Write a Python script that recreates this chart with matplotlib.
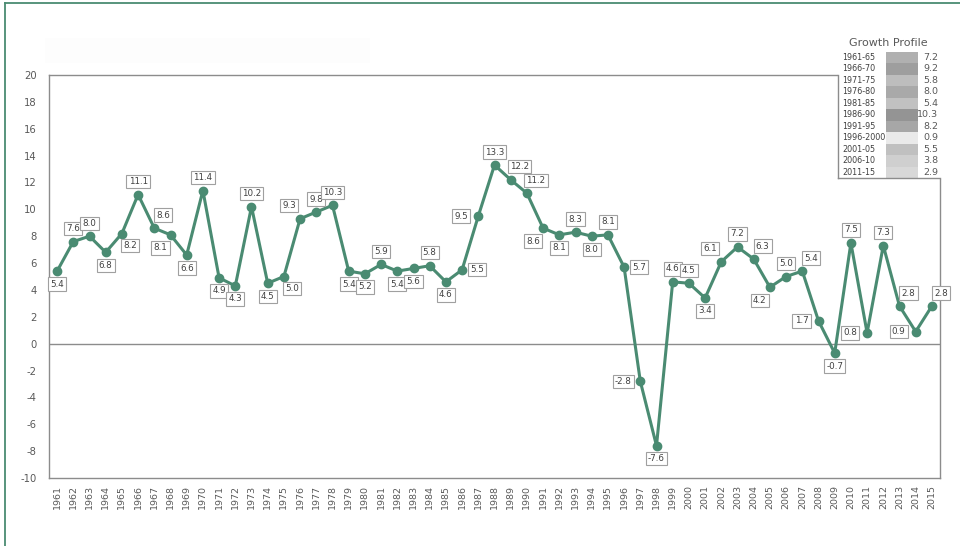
import numpy as np
import matplotlib
matplotlib.use("Agg")
import matplotlib.pyplot as plt
from matplotlib.lines import Line2D
from matplotlib.patches import Rectangle

plt.rcParams["axes.unicode_minus"] = False

# ── Data ──────────────────────────────────────────────────────────────────────
YEARS = list(range(1961, 2016))
GROWTH = [5.4, 7.6, 8.0, 6.8, 8.2, 11.1, 8.6, 8.1, 6.6, 11.4,
          4.9, 4.3, 10.2, 4.5, 5.0, 9.3, 9.8, 10.3, 5.4, 5.2,
          5.9, 5.4, 5.6, 5.8, 4.6, 5.5, 9.5, 13.3, 12.2, 11.2,
          8.6, 8.1, 8.3, 8.0, 8.1, 5.7, -2.8, -7.6, 4.6, 4.5,
          3.4, 6.1, 7.2, 6.3, 4.2, 5.0, 5.4, 1.7, -0.7, 7.5,
          0.8, 7.3, 2.8, 0.9, 2.8]

PERIODS = ["1961-65", "1966-70", "1971-75", "1976-80", "1981-85", "1986-90",
           "1991-95", "1996-2000", "2001-05", "2006-10", "2011-15"]
PERIOD_AVG = [7.2, 9.2, 5.8, 8.0, 5.4, 10.3, 8.2, 0.9, 5.5, 3.8, 2.9]

# label placement for each point (a=above, b=below, l=left, r=right)
LABEL_POS = ["b", "a", "a", "b", "br", "a", "ar", "bl", "b", "a",
             "b", "b", "a", "b", "br", "al", "a", "a", "b", "b",
             "a", "b", "b", "a", "b", "r", "l", "a", "ar", "ar",
             "bl", "b", "a", "b", "a", "r", "l", "b", "a", "a",
             "b", "al", "a", "ar", "bl", "a", "ar", "l", "b", "a",
             "l", "a", "ar", "l", "ar"]

OFFSETS = {"a": (0, 13), "b": (0, -13), "l": (-17, 0), "r": (15, 0),
           "ar": (9, 13), "al": (-11, 13), "br": (8, -12), "bl": (-10, -13)}

GREEN = "#4a8b72"
GRID_GRAY = "#8c8c8c"
TEXT_GRAY = "#595959"

W, H = 960, 546
fig = plt.figure(figsize=(W / 100, H / 100), dpi=100)

# ── Main chart ────────────────────────────────────────────────────────────────
ax = fig.add_axes([49 / W, 1 - 478 / H, 891 / W, 403 / H])
x = np.arange(len(YEARS))
ax.plot(x, GROWTH, "-o", color=GREEN, linewidth=2.2, markersize=6, zorder=3)
ax.axhline(0, color=GRID_GRAY, linewidth=1.0, zorder=1)

ax.set_xlim(-0.5, len(YEARS) - 0.5)
ax.set_ylim(-10, 20)
ax.set_yticks(np.arange(-10, 21, 2))
ax.set_xticks(x)
ax.set_xticklabels([str(y) for y in YEARS], rotation=90)
ax.tick_params(axis="both", length=0, labelcolor=TEXT_GRAY)
ax.tick_params(axis="y", labelsize=7.2, pad=9)
ax.tick_params(axis="x", labelsize=6.8, pad=5)
for sp in ax.spines.values():
    sp.set_color(GRID_GRAY)
    sp.set_linewidth(1.0)

for xi, v, pos in zip(x, GROWTH, LABEL_POS):
    ax.annotate(f"{v:.1f}", (xi, v), xytext=OFFSETS[pos],
                textcoords="offset pixels", ha="center", va="center",
                fontsize=6.3, color="#404040", zorder=4,
                bbox=dict(boxstyle="square,pad=0.25", fc="white",
                          ec="#a0a0a0", lw=0.8))

# faint title placeholder
fig.add_artist(Rectangle((45 / W, 1 - 63 / H), 325 / W, 25 / H,
                         transform=fig.transFigure, fc="#fdfdfd", ec="none"))

# ── Growth profile table ──────────────────────────────────────────────────────
lg = fig.add_axes([838 / W, 1 - 179 / H, 108 / W, 146 / H], zorder=5)
lg.set_xlim(0, 1)
lg.set_ylim(10.57, -2.13)
lg.axis("off")
lg.add_patch(Rectangle((0, -2.13), 1, 12.7, fc="white", ec="none", zorder=0))
lg.text(0.47, -1.26, "Growth Profile", ha="center", va="center",
        fontsize=8, color=TEXT_GRAY)
for i, (p, v) in enumerate(zip(PERIODS, PERIOD_AVG)):
    g = 0.95 - 0.036 * v
    lg.add_patch(Rectangle((0.444, i - 0.5), 0.296, 1.0,
                           fc=(g, g, g), ec="none", zorder=1))
    lg.text(0.037, i, p, ha="left", va="center", fontsize=5.8, color="#404040")
    lg.text(0.93, i, f"{v:.1f}", ha="right", va="center", fontsize=6.8,
            color=TEXT_GRAY)
lg.plot([0, 0], [1.52, 10.5], color=GRID_GRAY, lw=1.0, clip_on=False)
lg.plot([0, 0.944], [10.5, 10.5], color=GRID_GRAY, lw=1.0, clip_on=False)

# ── Outer green frame (top and left) ──────────────────────────────────────────
fig.add_artist(Line2D([5 / W, 5 / W], [0, 1 - 3 / H], color=GREEN, lw=1.3))
fig.add_artist(Line2D([5 / W, 1], [1 - 3 / H, 1 - 3 / H], color=GREEN, lw=1.3))

fig.savefig("out.png", dpi=100)
